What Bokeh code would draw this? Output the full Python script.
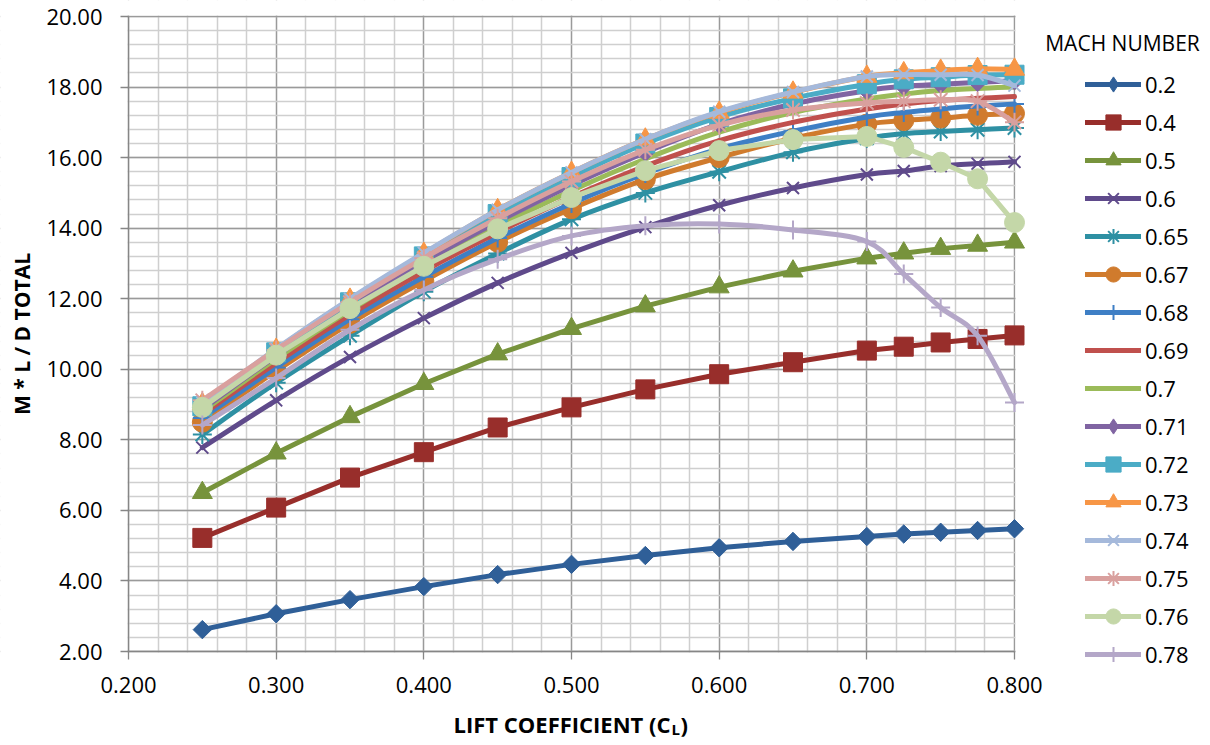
import numpy as np
from bokeh.plotting import figure
from bokeh.models import (Range1d, FixedTicker, NumeralTickFormatter, Legend,
                          LegendItem, Label, BoxAnnotation)
from bokeh.embed import file_html
from bokeh.resources import INLINE

# ---------------- data ----------------
CL = [0.25, 0.30, 0.35, 0.40, 0.45, 0.50, 0.55, 0.60, 0.65, 0.70, 0.725, 0.75, 0.775, 0.80]

MACH = ["0.2", "0.4", "0.5", "0.6", "0.65", "0.67", "0.68", "0.69",
        "0.7", "0.71", "0.72", "0.73", "0.74", "0.75", "0.76", "0.78"]

m020 = [2.62, 3.07, 3.47, 3.84, 4.18, 4.47, 4.72, 4.94, 5.12, 5.26, 5.33, 5.38, 5.43, 5.48]
m040 = [5.22, 6.08, 6.93, 7.65, 8.35, 8.92, 9.43, 9.86, 10.20, 10.53, 10.64, 10.76, 10.86, 10.96]
m050 = [6.50, 7.62, 8.65, 9.59, 10.43, 11.15, 11.79, 12.33, 12.78, 13.15, 13.29, 13.42, 13.51, 13.60]
m060 = [7.78, 9.12, 10.35, 11.45, 12.45, 13.30, 14.03, 14.65, 15.14, 15.52, 15.62, 15.76, 15.83, 15.88]
m065 = [8.15, 9.62, 10.95, 12.20, 13.28, 14.25, 15.00, 15.60, 16.15, 16.55, 16.68, 16.74, 16.79, 16.84]
m067 = [8.50, 9.95, 11.30, 12.50, 13.60, 14.55, 15.38, 16.00, 16.55, 16.95, 17.05, 17.12, 17.20, 17.25]
m068 = [8.62, 10.05, 11.42, 12.62, 13.72, 14.70, 15.55, 16.25, 16.75, 17.15, 17.28, 17.38, 17.46, 17.52]
m069 = [8.72, 10.18, 11.55, 12.78, 13.88, 14.88, 15.76, 16.48, 17.00, 17.38, 17.52, 17.62, 17.68, 17.73]
m070 = [8.80, 10.30, 11.68, 12.92, 14.04, 15.06, 15.96, 16.72, 17.28, 17.66, 17.80, 17.90, 17.96, 18.00]
m071 = [8.86, 10.38, 11.78, 13.04, 14.18, 15.22, 16.15, 16.95, 17.52, 17.90, 18.02, 18.08, 18.13, 18.18]
m072 = [8.95, 10.48, 11.90, 13.20, 14.40, 15.45, 16.40, 17.15, 17.68, 18.08, 18.22, 18.28, 18.34, 18.35]
m073 = [9.02, 10.56, 11.98, 13.28, 14.52, 15.58, 16.52, 17.28, 17.85, 18.30, 18.40, 18.47, 18.52, 18.50]
m074 = [9.05, 10.58, 12.00, 13.30, 14.52, 15.58, 16.52, 17.30, 17.86, 18.30, 18.35, 18.35, 18.34, 18.04]
m075 = [9.12, 10.55, 11.90, 13.15, 14.28, 15.32, 16.22, 16.92, 17.35, 17.55, 17.60, 17.64, 17.60, 17.00]
m076 = [8.92, 10.40, 11.72, 12.92, 13.98, 14.87, 15.63, 16.20, 16.51, 16.60, 16.29, 15.87, 15.40, 14.16]
m078 = [8.42, 9.75, 11.12, 12.25, 13.12, 13.78, 14.07, 14.12, 13.95, 13.62, 12.70, 11.75, 10.95, 9.06]

SERIES = [m020, m040, m050, m060, m065, m067, m068, m069,
          m070, m071, m072, m073, m074, m075, m076, m078]

X_TICKS = [0.2, 0.3, 0.4, 0.5, 0.6, 0.7, 0.8]
Y_TICKS = [2, 4, 6, 8, 10, 12, 14, 16, 18, 20]

# ---------------- styles ----------------
COLORS = ["#2F5F98", "#982E2B", "#77933C", "#5F4A8B", "#2E90A3", "#D07B2D",
          "#3E7FC5", "#C0504D", "#9BBB59", "#8064A2", "#4BACC6", "#F79646",
          "#A5B9DB", "#D9A09E", "#C4D7A8", "#B4A7C8"]
# (marker, size, filled)
MARKERS = [("diamond", 13, True), ("square", 19, True), ("triangle", 20, True),
           ("x", 17, False), ("asterisk", 19, False), ("circle", 20, True),
           ("cross", 19, False), (None, 0, False), (None, 0, False),
           ("diamond", 13, True), ("square", 19, True), ("triangle", 20, True),
           ("x", 17, False), ("asterisk", 19, False), ("circle", 20, True),
           ("cross", 19, False)]
SMOOTH = [False, False, False, True, True, True, True, True,
          True, True, True, True, True, True, False, True]

FONT = "Open Sans"
LW = 5

# ---------------- geometry (frame covers the whole canvas) ----------------
X0, X1, Y0, Y1 = 0.2, 0.8, 2.0, 20.0
PLOT_W, PLOT_H = 886, 635            # data area in px
FIG_W, FIG_H = 1205, 742
LEFT, TOP = 128, 16                  # data area offset inside the canvas
PXX = PLOT_W / (X1 - X0)
PXY = PLOT_H / (Y1 - Y0)
XLO = X0 - LEFT / PXX
XHI = X0 + (FIG_W - LEFT) / PXX
YHI = Y1 + TOP / PXY
YLO = Y1 - (FIG_H - TOP) / PXY


def dx(px):   # canvas px -> data x
    return X0 + (px - LEFT) / PXX


def dy(py):   # canvas px -> data y
    return Y1 - (py - TOP) / PXY


p = figure(frame_width=FIG_W, frame_height=FIG_H,
           x_range=Range1d(XLO, XHI), y_range=Range1d(YLO, YHI),
           output_backend="svg", toolbar_location=None,
           min_border_left=0, min_border_right=0,
           min_border_top=0, min_border_bottom=0)
p.outline_line_color = None

# axes (fixed at the data-area edges)
xax = p.xaxis[0]
yax = p.yaxis[0]
xax.fixed_location = Y0
yax.fixed_location = X0
xax.bounds = (X0, X1)
yax.bounds = (Y0, Y1)
xax.ticker = FixedTicker(ticks=X_TICKS,
                         minor_ticks=list(np.round(np.arange(0.2, 0.8001, 0.02), 3)))
yax.ticker = FixedTicker(ticks=Y_TICKS,
                         minor_ticks=list(np.round(np.arange(2, 20.001, 0.4), 2)))
xax.formatter = NumeralTickFormatter(format="0.000")
yax.formatter = NumeralTickFormatter(format="0.00")
for ax in (xax, yax):
    ax.axis_line_color = "#868686"
    ax.axis_line_width = 1.3
    ax.major_tick_line_color = "#868686"
    ax.major_tick_line_width = 1.3
    ax.major_tick_out = 8
    ax.major_tick_in = 0
    ax.minor_tick_out = 0
    ax.minor_tick_in = 0
    ax.major_label_text_font = FONT
    ax.major_label_text_font_size = "22px"
    ax.major_label_text_color = "#000000"
yax.major_label_standoff = 18
xax.major_label_standoff = 17
yax.axis_label = "M * L / D TOTAL"
yax.axis_label_text_font = FONT
yax.axis_label_text_font_style = "bold"
yax.axis_label_text_font_size = "21px"
yax.axis_label_text_color = "#000000"
yax.axis_label_standoff = 7

# grid
for g in (p.xgrid[0], p.ygrid[0]):
    g.grid_line_color = "#9A9A9A"
    g.grid_line_width = 1.3
    g.minor_grid_line_color = "#CFCFCF"
    g.minor_grid_line_width = 1.5

# blank the grid outside the data area
box = dict(fill_color="white", fill_alpha=1, line_color=None, level="underlay")
p.add_layout(BoxAnnotation(left=X1 + 1.0 / PXX, right=XHI + 1, bottom=YLO - 1, top=YHI + 1, **box))
p.add_layout(BoxAnnotation(left=XLO - 1, right=X0 - 1.0 / PXX, bottom=YLO - 1, top=YHI + 1, **box))
p.add_layout(BoxAnnotation(left=XLO - 1, right=XHI + 1, bottom=YLO - 1, top=Y0 - 1.0 / PXY, **box))
p.add_layout(BoxAnnotation(left=XLO - 1, right=XHI + 1, bottom=Y1 + 1.0 / PXY, top=YHI + 1, **box))


def bezier_parts(xs, ys, t=1.0 / 6.0):
    n = len(xs)
    out = {k: [] for k in ("x0", "y0", "x1", "y1", "cx0", "cy0", "cx1", "cy1")}
    for i in range(n - 1):
        xm, ym = (xs[i - 1], ys[i - 1]) if i > 0 else (xs[i], ys[i])
        xp, yp = (xs[i + 2], ys[i + 2]) if i + 2 < n else (xs[i + 1], ys[i + 1])
        out["x0"].append(xs[i]); out["y0"].append(ys[i])
        out["x1"].append(xs[i + 1]); out["y1"].append(ys[i + 1])
        out["cx0"].append(xs[i] + (xs[i + 1] - xm) * t)
        out["cy0"].append(ys[i] + (ys[i + 1] - ym) * t)
        out["cx1"].append(xs[i + 1] - (xp - xs[i]) * t)
        out["cy1"].append(ys[i + 1] - (yp - ys[i]) * t)
    return out


def marker_kw(mk, sz, filled, col):
    kw = dict(marker=mk, size=sz, line_color=col)
    if mk == "diamond":
        kw["marker"] = "square"
        kw["angle"] = np.pi / 4
    if filled:
        kw.update(fill_color=col, line_width=1)
    else:
        kw.update(fill_color=None, line_width=2)
    return kw


items = []
NAN = [np.nan]
for name, ys, col, (mk, sz, filled), smooth in zip(MACH, SERIES, COLORS, MARKERS, SMOOTH):
    if smooth:
        b = bezier_parts(CL, ys)
        p.bezier(line_color=col, line_width=LW, line_cap="round", **b)
        ln = p.line(x=NAN, y=NAN, line_color=col, line_width=LW, line_cap="round")
    else:
        ln = p.line(CL, ys, line_color=col, line_width=LW, line_join="round", line_cap="round")
    rends = [ln]
    if mk is not None:
        sc = p.scatter(CL, ys, **marker_kw(mk, sz, filled, col))
        if mk == "diamond":   # legend swatch needs an unrotated diamond shape
            sc = p.scatter(x=NAN, y=NAN, marker="diamond", size=sz,
                           fill_color=col, line_color=col, line_width=1)
        rends.append(sc)
    items.append(LegendItem(label=name, renderers=rends))

legend = Legend(items=items, location=(1085, FIG_H - 673), orientation="vertical",
                glyph_width=56, glyph_height=38, label_height=38, spacing=0,
                label_standoff=4, padding=0, margin=0,
                border_line_color=None, background_fill_alpha=0,
                label_text_font=FONT, label_text_font_size="22px",
                label_text_color="#000000")
p.add_layout(legend, "center")

# legend title
p.add_layout(Label(x=dx(1122), y=dy(42), text="MACH NUMBER",
                   text_align="center", text_baseline="alphabetic", text_font=FONT,
                   text_font_size="21px", text_color="#000000"))

# x axis title with subscript
p.add_layout(Label(x=dx(670), y=dy(723),
                   text="LIFT COEFFICIENT (C", text_align="right",
                   text_baseline="alphabetic", text_font=FONT, text_font_style="bold",
                   text_font_size="22px", text_color="#000000"))
p.add_layout(Label(x=dx(671), y=dy(728), text="L",
                   text_align="left", text_baseline="alphabetic", text_font=FONT,
                   text_font_style="bold", text_font_size="15px", text_color="#000000"))
p.add_layout(Label(x=dx(680), y=dy(723), text=")",
                   text_align="left", text_baseline="alphabetic", text_font=FONT,
                   text_font_style="bold", text_font_size="22px", text_color="#000000"))

open("out.html", "w").write(file_html(p, INLINE))
